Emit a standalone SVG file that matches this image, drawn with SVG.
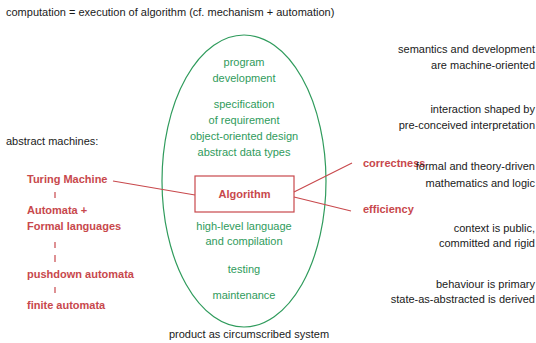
<svg xmlns="http://www.w3.org/2000/svg" width="536" height="343" viewBox="0 0 536 343">
<style>
text{font-family:"Liberation Sans",Arial,sans-serif;font-size:11px}
.k{fill:#1a1a1a}
.g{fill:#2f9b5c;text-anchor:middle}
.r{fill:#c8484c;font-weight:bold}
.e{text-anchor:end}
.ln{stroke:#c8484c;stroke-width:1.2;fill:none}
</style>
<rect width="536" height="343" fill="#fff"/>
<text class="k" x="6" y="16">computation = execution of algorithm (cf. mechanism + automation)</text>
<g id="ellipse">
<ellipse cx="244" cy="181" rx="82" ry="146" fill="none" stroke="#2f9b5c" stroke-width="1.2"/>
<text class="g" x="244" y="66">program</text>
<text class="g" x="244" y="82">development</text>
<text class="g" x="244" y="108">specification</text>
<text class="g" x="244" y="124">of requirement</text>
<text class="g" x="244" y="140">object-oriented design</text>
<text class="g" x="244" y="156">abstract data types</text>
<text class="g" x="244" y="230">high-level language</text>
<text class="g" x="244" y="245">and compilation</text>
<text class="g" x="244" y="273">testing</text>
<text class="g" x="244" y="299">maintenance</text>
</g>
<text class="k" x="249" y="338" text-anchor="middle">product as circumscribed system</text>
<g id="algorithm">
<rect x="195" y="176" width="99" height="36" fill="#fff" stroke="#c8484c" stroke-width="1.2"/>
<text class="r" x="244.5" y="198" text-anchor="middle">Algorithm</text>
</g>
<g id="connectors">
<line class="ln" x1="113" y1="181" x2="195" y2="195"/>
<line class="ln" x1="294" y1="192" x2="352" y2="163"/>
<line class="ln" x1="294" y1="197" x2="351" y2="211"/>
<path class="ln" d="M55 192V198M55 242V248M55 255V262M55 287V293"/>
</g>
<text class="k" x="6" y="145">abstract machines:</text>
<g id="machines">
<text class="r" x="27" y="183">Turing Machine</text>
<text class="r" x="27" y="214">Automata +</text>
<text class="r" x="27" y="230">Formal languages</text>
<text class="r" x="27" y="278">pushdown automata</text>
<text class="r" x="27" y="309">finite automata</text>
</g>
<g id="correctness"><text class="r" x="363" y="167">correctness</text></g>
<g id="efficiency"><text class="r" x="363" y="213">efficiency</text></g>
<g id="right" class="k">
<text class="k e" x="535" y="53">semantics and development</text>
<text class="k e" x="535" y="69">are machine-oriented</text>
<text class="k e" x="535" y="113">interaction shaped by</text>
<text class="k e" x="535" y="129">pre-conceived interpretation</text>
<text class="k e" x="535" y="170">formal and theory-driven</text>
<text class="k e" x="535" y="187">mathematics and logic</text>
<text class="k e" x="535" y="232">context is public,</text>
<text class="k e" x="535" y="247">committed and rigid</text>
<text class="k e" x="535" y="288">behaviour is primary</text>
<text class="k e" x="535" y="303">state-as-abstracted is derived</text>
</g>
</svg>
